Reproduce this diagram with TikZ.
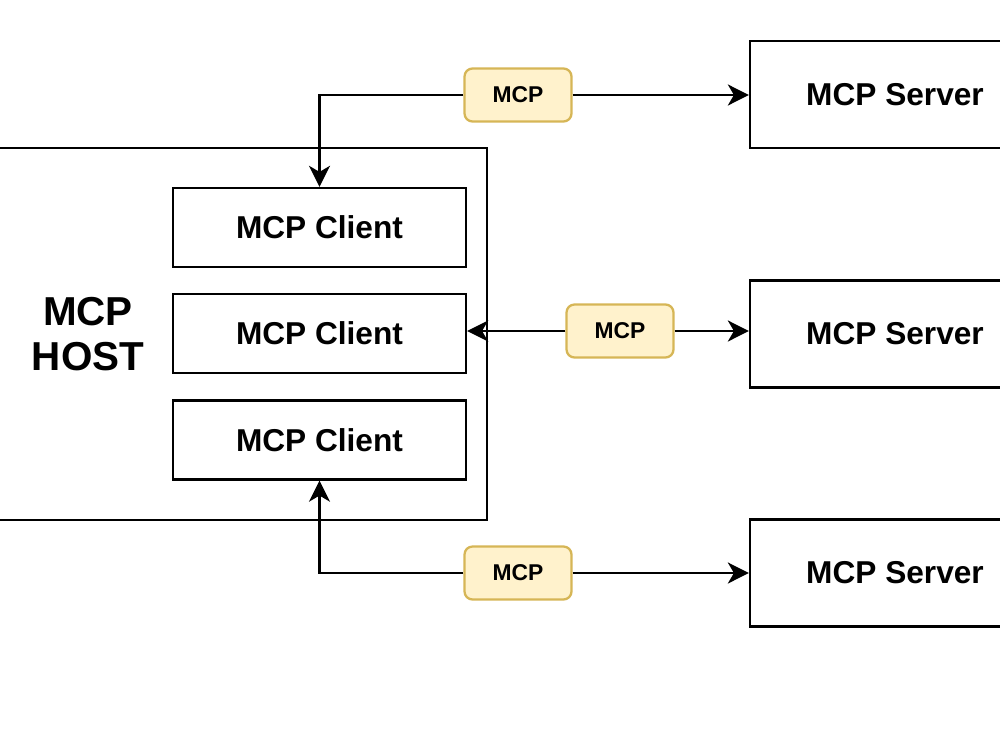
\documentclass[tikz,border=0pt]{standalone}
\usepackage{fontspec}
\setmainfont{Liberation Sans}
\usetikzlibrary{arrows.meta, positioning}
\definecolor{mcpfill}{HTML}{FFF2CC}
\definecolor{mcpline}{HTML}{D6B656}

\tikzset{
  box/.style={draw, line width=1.3pt, font=\fontsize{18}{20}\selectfont\bfseries},
  client/.style={box, minimum width=5.86cm, minimum height=1.58cm},
  server/.style={box, minimum width=5.8cm, minimum height=2.14cm},
  proto/.style={draw=mcpline, fill=mcpfill, line width=1.3pt, rounded corners=0.16cm,
    minimum width=2.14cm, minimum height=1.06cm, font=\fontsize{13}{15}\selectfont\bfseries},
  link/.style={line width=1.3pt, -{Stealth[length=12pt, width=12pt, inset=3.5pt]}}
}

\begin{document}
\begin{tikzpicture}[x=0.02cm, y=-0.02cm]
    \useasboundingbox (0,0) rectangle (1000,750);

    % host and its clients
    \node[draw, line width=1.3pt, minimum width=10.14cm, minimum height=7.44cm] (host) at (233.5, 334) {};
    \node[font=\fontsize{23}{26}\selectfont\bfseries, align=center] (hostlabel) at (88, 334) {MCP\\HOST};

    \node[client] (c1) at (319.5, 227.5) {MCP Client};
    \node[client] (c2) at (319.5, 333.5) {MCP Client};
    \node[client] (c3) at (319.5, 440) {MCP Client};

    % servers
    \node[server] (s1) at (895, 94.5) {MCP Server};
    \node[server] (s2) at (895, 334) {MCP Server};
    \node[server] (s3) at (895, 573) {MCP Server};

    % protocol labels
    \node[proto] (p1) at (518, 95) {MCP};
    \node[proto] (p2) at (620, 331) {MCP};
    \node[proto] (p3) at (518, 573) {MCP};

    \draw[link] (p1) -| (c1);
    \draw[link] (p1) -- (p1 -| s1.west);
    \draw[link] (p2) -- (p2 -| c2.east);
    \draw[link] (p2) -- (p2 -| s2.west);
    \draw[link] (p3) -| (c3);
    \draw[link] (p3) -- (p3 -| s3.west);
  \end{tikzpicture}
\end{document}
